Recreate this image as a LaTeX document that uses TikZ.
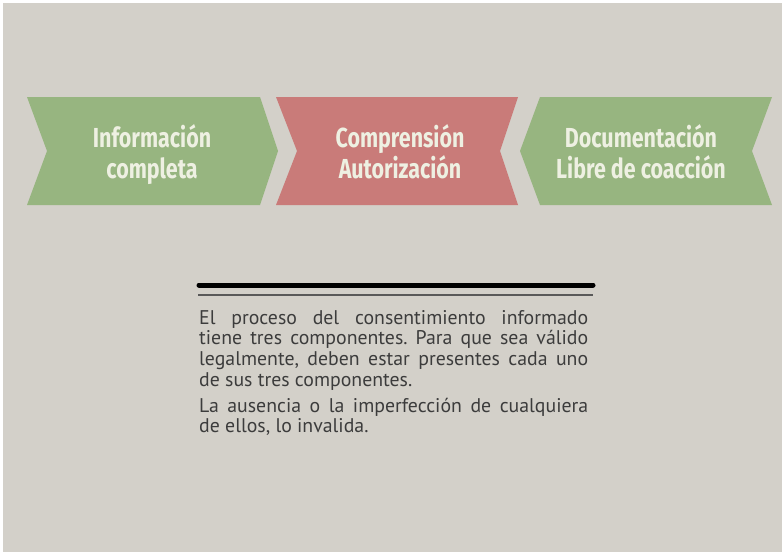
\documentclass[tikz,border=0pt]{standalone}
\usepackage{fontspec}
\usepackage{tikz}
\usetikzlibrary{positioning}
\newfontfamily\headfont[FakeStretch=0.78]{Fira Sans}
\newfontfamily\bodyfont{PT Sans}
\definecolor{bgray}{HTML}{D3D0C9}
\definecolor{sage}{HTML}{97B580}
\definecolor{rose}{HTML}{C97B79}
\definecolor{cream}{HTML}{EEF0E2}
\definecolor{ink}{HTML}{3C3C3C}

\begin{document}
\begin{tikzpicture}[x=1pt,y=-1pt,
		head/.style={text=cream,align=center,inner sep=0pt,anchor=base,
			font=\headfont\bfseries\fontsize{27.5}{31}\selectfont}]
		\tikzstyle{rule}=[line width=5pt,line cap=round]
		\useasboundingbox (0,0) rectangle (782,552);
		\fill[white] (0,0) rectangle (782,552);
		\fill[bgray] (3,3) rectangle (782,552);
		\fill[sage] (27,97) -- (260,97) -- (278,151) -- (260,205) -- (27,205) -- (47,151) -- cycle;
		\fill[rose] (276,97) -- (518,97) -- (500,151) -- (518,205) -- (276,205) -- (297,151) -- cycle;
		\fill[sage] (540,97) -- (772,97) -- (752,151) -- (772,205) -- (540,205) -- (520,151) -- cycle;
		\node[head] (info) at (152,178) {Información\\completa};
		\node[head] (comp) at (400,178) {Comprensión\\Autorización};
		\node[head] (docu) at (641,178) {Documentación\\Libre de coacción};
		\coordinate (r1) at (199,285);
		\coordinate (r2) at (593,285);
		\draw[rule] (r1) -- (r2);
		\draw[line width=1.8pt,black!65] (198,295) -- (593,295);
		\node[anchor=north west,inner sep=0pt,text width=389pt,align=justify,text=ink,
			font=\bodyfont\fontsize{19.8}{20.7}\selectfont\frenchspacing] (body) at (199,310)
			{El proceso del consentimiento informado\linebreak
			tiene tres componentes. Para que sea válido\linebreak
			legalmente, deben estar presentes cada uno\linebreak
			de sus tres componentes.\par\vspace{5pt}
			La ausencia o la imperfección de cualquiera\linebreak
			de ellos, lo invalida.\par};
	\end{tikzpicture}
\end{document}
